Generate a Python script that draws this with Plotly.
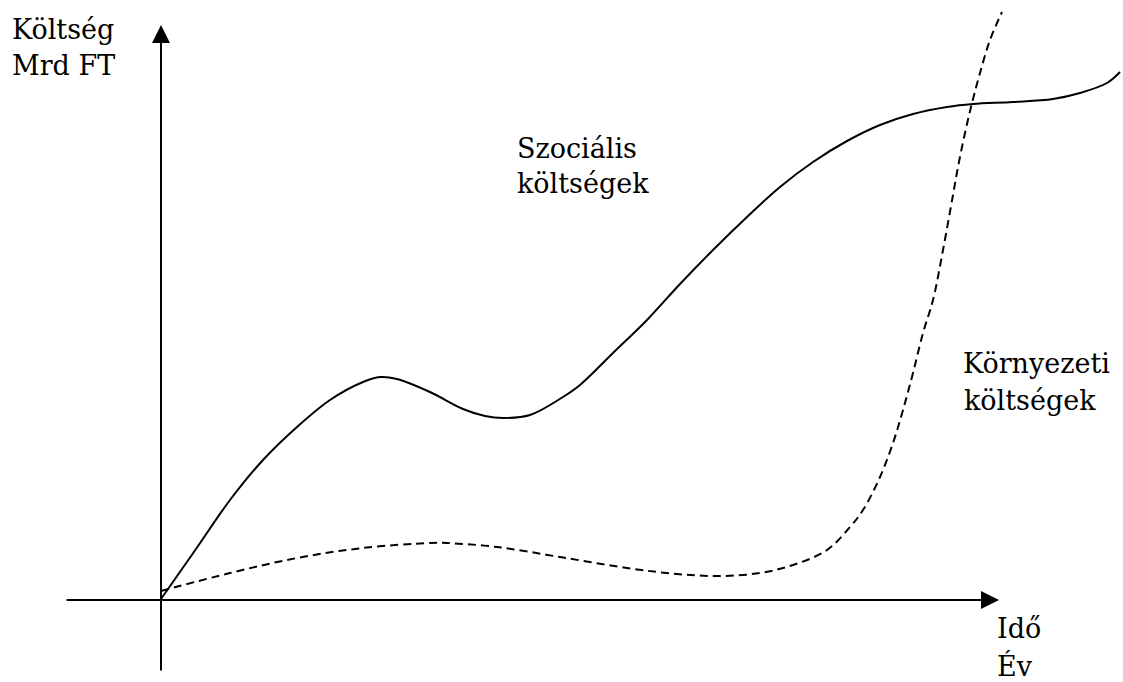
import plotly.graph_objects as go

# Social costs (solid curve): time vs cost (arbitrary units)
social_x = [0, 35, 69, 102, 136, 169, 202, 219, 236, 269, 302, 324, 342, 369, 402, 419, 452, 486,
            519, 552, 586, 619, 652, 686, 719, 752, 786, 812, 852, 892, 919, 946, 959]
social_y = [1, 51, 100, 140, 173, 200, 218, 223, 221, 208, 191, 184, 182, 185, 203, 215, 247, 280,
            316, 350, 383, 413, 438, 459, 475, 486, 493, 496, 498, 501, 507, 517, 528]

# Environmental costs (dashed curve)
env_x = [0, 69, 136, 202, 269, 286, 336, 399, 466, 516, 559, 599, 632, 666, 689, 702, 719,
         732, 742, 752, 762, 772, 782, 792, 797, 804, 811, 819, 829, 841]
env_y = [9, 27, 42, 52, 57, 57, 53, 43, 32, 26, 24, 27, 35, 50, 73, 90, 123,
         157, 190, 227, 267, 300, 350, 405, 433, 467, 497, 527, 560, 588]

# Axis extents
x_axis_start, x_axis_end = -96, 838
y_axis_start, y_axis_end = -72, 575

# Labels: (text, x, y)
labels = [
    ("Költség", -150, 587),
    ("Mrd FT", -150, 551),
    ("Szociális", 355, 468),
    ("költségek", 355, 433),
    ("Környezeti", 801, 253),
    ("költségek", 802, 216),
    ("Idő", 835, -12),
    ("Év", 835, -49),
]

FONT = dict(family="DejaVu Serif, Liberation Serif, Tinos, Times New Roman, serif",
            size=27, color="black")

fig = go.Figure()
fig.add_trace(go.Scatter(x=social_x, y=social_y, mode="lines",
                         line=dict(color="black", width=2, shape="spline", smoothing=1.0),
                         hoverinfo="skip"))
fig.add_trace(go.Scatter(x=env_x, y=env_y, mode="lines",
                         line=dict(color="black", width=2, dash="8px,5px", shape="spline", smoothing=1.0),
                         hoverinfo="skip"))

annotations = []
# axes with arrowheads
annotations.append(dict(x=x_axis_end, y=0, ax=x_axis_start, ay=0, xref="x", yref="y",
                        axref="x", ayref="y", showarrow=True, arrowhead=2, arrowsize=1.8,
                        arrowwidth=2, arrowcolor="black", text=""))
annotations.append(dict(x=0, y=y_axis_end, ax=0, ay=y_axis_start, xref="x", yref="y",
                        axref="x", ayref="y", showarrow=True, arrowhead=2, arrowsize=1.8,
                        arrowwidth=2, arrowcolor="black", text=""))
for t, x, y in labels:
    annotations.append(dict(x=x, y=y, xref="x", yref="y", text=t, showarrow=False,
                            xanchor="left", yanchor="top", font=FONT, borderpad=0))

fig.update_layout(
    width=1123, height=682,
    margin=dict(l=0, r=0, t=0, b=0),
    paper_bgcolor="white", plot_bgcolor="white",
    showlegend=False,
    xaxis=dict(range=[-161, 962], visible=False, fixedrange=True),
    yaxis=dict(range=[-82, 600], visible=False, fixedrange=True),
    annotations=annotations,
)

fig.write_html("out.html", config={"displayModeBar": False},
               post_script="document.body.style.margin='0';document.body.style.overflow='hidden';")
